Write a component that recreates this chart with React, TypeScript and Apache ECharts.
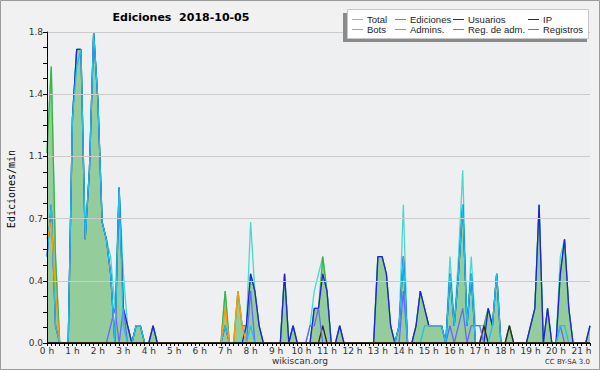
import React, { useEffect, useRef } from "react";
import * as echarts from "echarts";

// 10-minute slots from 0:00 to 21:20
const slots: string[] = Array.from({ length: 129 }, (_, i) => `${Math.floor(i / 6)}:${String((i % 6) * 10).padStart(2, "0")}`);

// values in edits per minute, one row per hour (6 slots)
const total = [
  1.1, 1.6, 0.5, 0, 0, 0,
  1.3, 1.7, 1.7, 0.6, 1.0, 1.8,
  1.4, 0.7, 0.6, 0.5, 0.2, 0.9,
  0.4, 0.1, 0, 0.1, 0.1, 0,
  0, 0.1, 0, 0, 0, 0,
  0, 0, 0, 0, 0, 0,
  0, 0, 0, 0, 0, 0,
  0.3, 0, 0, 0.3, 0.1, 0.1,
  0.7, 0.3, 0.1, 0, 0, 0,
  0, 0, 0.4, 0, 0.1, 0,
  0, 0, 0.1, 0.3, 0.4, 0.5,
  0.3, 0, 0, 0.1, 0, 0,
  0, 0, 0, 0, 0, 0,
  0.5, 0.5, 0.4, 0.1, 0, 0.1,
  0.8, 0, 0, 0.1, 0.3, 0.2,
  0.1, 0.1, 0.1, 0.1, 0, 0.5,
  0.1, 0.5, 1.0, 0.1, 0.5, 0.1,
  0.1, 0.1, 0.2, 0.1, 0.4, 0,
  0, 0.1, 0, 0, 0, 0,
  0.1, 0.2, 0.8, 0, 0.2, 0,
  0, 0.5, 0.6, 0.2, 0, 0,
  0, 0, 0.1,
];

const ediciones = [
  1.1, 1.6, 0.5, 0, 0, 0,
  1.3, 1.7, 1.7, 0.6, 1.0, 1.8,
  1.4, 0.7, 0.6, 0.4, 0, 0.9,
  0.2, 0.1, 0, 0.1, 0.1, 0,
  0, 0.1, 0, 0, 0, 0,
  0, 0, 0, 0, 0, 0,
  0, 0, 0, 0, 0, 0,
  0.3, 0, 0, 0.3, 0.1, 0.1,
  0.4, 0.3, 0.1, 0, 0, 0,
  0, 0, 0.4, 0, 0.1, 0,
  0, 0, 0, 0.2, 0.2, 0.5,
  0.3, 0, 0, 0.1, 0, 0,
  0, 0, 0, 0, 0, 0,
  0.5, 0.5, 0.4, 0.1, 0, 0.1,
  0.5, 0, 0, 0.1, 0.3, 0.2,
  0.1, 0.1, 0.1, 0.1, 0, 0.4,
  0.1, 0.4, 0.8, 0.1, 0.4, 0,
  0, 0.1, 0.2, 0.1, 0.4, 0,
  0, 0.1, 0, 0, 0, 0,
  0.1, 0.2, 0.8, 0, 0.2, 0,
  0, 0.4, 0.6, 0.2, 0, 0,
  0, 0, 0.1,
];

const usuarios = [
  0.5, 0.8, 0.1, 0, 0, 0,
  1.3, 1.7, 1.7, 0.6, 1.0, 1.8,
  1.4, 0.7, 0.6, 0.4, 0, 0.9,
  0.2, 0.1, 0, 0.1, 0.1, 0,
  0, 0.1, 0, 0, 0, 0,
  0, 0, 0, 0, 0, 0,
  0, 0, 0, 0, 0, 0,
  0.1, 0, 0, 0, 0, 0.1,
  0.4, 0.3, 0.1, 0, 0, 0,
  0, 0, 0.4, 0, 0.1, 0,
  0, 0, 0, 0.2, 0.2, 0.4,
  0.3, 0, 0, 0.1, 0, 0,
  0, 0, 0, 0, 0, 0,
  0.5, 0.5, 0.4, 0.1, 0, 0.1,
  0.5, 0, 0, 0.1, 0.3, 0.2,
  0.1, 0.1, 0.1, 0.1, 0, 0.4,
  0.1, 0.4, 0.8, 0.1, 0.4, 0,
  0, 0, 0.2, 0.1, 0.4, 0,
  0, 0, 0, 0, 0, 0,
  0.1, 0.2, 0.8, 0, 0.2, 0,
  0, 0.4, 0.6, 0.2, 0, 0,
  0, 0, 0.1,
];

const ip = [
  0, 0, 0, 0, 0, 0,
  0, 0, 0, 0, 0, 0,
  0, 0, 0, 0, 0, 0,
  0, 0, 0, 0, 0, 0,
  0, 0, 0, 0, 0, 0,
  0, 0, 0, 0, 0, 0,
  0, 0, 0, 0, 0, 0,
  0, 0, 0, 0, 0, 0,
  0, 0, 0, 0, 0, 0,
  0, 0, 0, 0, 0, 0,
  0, 0, 0, 0, 0, 0.1,
  0, 0, 0, 0, 0, 0,
  0, 0, 0, 0, 0, 0,
  0, 0, 0, 0, 0, 0,
  0, 0, 0, 0, 0, 0,
  0, 0, 0, 0, 0, 0,
  0, 0, 0, 0, 0, 0,
  0, 0.1, 0, 0, 0, 0,
  0, 0.1, 0, 0, 0, 0,
  0, 0, 0, 0, 0, 0,
  0, 0, 0, 0, 0, 0,
  0, 0, 0,
];

const bots = [
  0.6, 0.7, 0.3, 0, 0, 0,
  0, 0, 0, 0, 0, 0,
  0, 0, 0, 0, 0, 0,
  0, 0, 0, 0, 0, 0,
  0, 0, 0, 0, 0, 0,
  0, 0, 0, 0, 0, 0,
  0, 0, 0, 0, 0, 0,
  0.2, 0, 0, 0.3, 0.1, 0,
  0, 0, 0, 0, 0, 0,
  0, 0, 0, 0, 0, 0,
  0, 0, 0, 0, 0, 0,
  0, 0, 0, 0, 0, 0,
  0, 0, 0, 0, 0, 0,
  0, 0, 0, 0, 0, 0,
  0, 0, 0, 0, 0, 0,
  0, 0, 0, 0, 0, 0,
  0, 0, 0, 0, 0, 0,
  0, 0, 0, 0, 0, 0,
  0, 0, 0, 0, 0, 0,
  0, 0, 0, 0, 0, 0,
  0, 0, 0, 0, 0, 0,
  0, 0, 0,
];

const admins = [
  0.5, 0.8, 0.1, 0, 0, 0,
  1.3, 1.6, 1.7, 0.6, 1.0, 1.8,
  1.4, 0.7, 0.6, 0.4, 0, 0.9,
  0.1, 0, 0, 0.1, 0.1, 0,
  0, 0, 0, 0, 0, 0,
  0, 0, 0, 0, 0, 0,
  0, 0, 0, 0, 0, 0,
  0.1, 0, 0, 0, 0, 0,
  0.1, 0, 0, 0, 0, 0,
  0, 0, 0, 0, 0, 0,
  0, 0, 0, 0, 0, 0,
  0, 0, 0, 0, 0, 0,
  0, 0, 0, 0, 0, 0,
  0, 0, 0, 0, 0, 0.1,
  0.5, 0, 0, 0, 0, 0.1,
  0.1, 0.1, 0.1, 0.1, 0, 0.4,
  0.1, 0.4, 0.8, 0.1, 0.4, 0,
  0, 0, 0, 0.1, 0.4, 0,
  0, 0, 0, 0, 0, 0,
  0, 0, 0, 0, 0, 0,
  0, 0.1, 0.1, 0, 0, 0,
  0, 0, 0,
];

const regAdm = [
  0, 0, 0, 0, 0, 0, 0, 0, 0, 0, 0, 0, 0, 0, 0, 0, 0, 0, 0, 0, 0, 0, 0, 0,
  0, 0, 0, 0, 0, 0, 0, 0, 0, 0, 0, 0, 0, 0, 0, 0, 0, 0, 0, 0, 0, 0, 0, 0,
  0, 0, 0, 0, 0, 0, 0, 0, 0, 0, 0, 0, 0, 0, 0, 0, 0, 0, 0, 0, 0, 0, 0, 0,
  0, 0, 0, 0, 0, 0, 0, 0, 0, 0, 0, 0, 0, 0, 0, 0, 0, 0, 0, 0, 0, 0, 0, 0,
  0, 0, 0, 0, 0, 0, 0, 0, 0, 0, 0, 0, 0, 0, 0, 0, 0, 0, 0, 0, 0, 0, 0, 0,
  0, 0, 0, 0, 0, 0, 0, 0, 0,
];

const registros = [
  0, 0, 0, 0, 0, 0,
  0, 0, 0, 0, 0, 0,
  0, 0, 0, 0.1, 0.2, 0,
  0.2, 0, 0, 0, 0, 0,
  0, 0, 0, 0, 0, 0,
  0, 0, 0, 0, 0, 0,
  0, 0, 0, 0, 0, 0,
  0, 0, 0, 0, 0, 0,
  0.3, 0, 0, 0, 0, 0,
  0, 0, 0, 0, 0, 0,
  0, 0, 0.1, 0.1, 0.2, 0,
  0, 0, 0, 0, 0, 0,
  0, 0, 0, 0, 0, 0,
  0, 0, 0, 0, 0, 0,
  0.3, 0, 0, 0, 0, 0,
  0, 0, 0, 0, 0, 0.1,
  0, 0.1, 0.2, 0, 0.1, 0.1,
  0.1, 0, 0, 0, 0, 0,
  0, 0, 0, 0, 0, 0,
  0, 0, 0, 0, 0, 0,
  0, 0.1, 0, 0, 0, 0,
  0, 0, 0,
];

const yTicks = [0, 0.36, 0.72, 1.08, 1.44, 1.8];

const legendItems = [
  { name: "Total", color: "#48d8d0", col: 0, row: 0 },
  { name: "Bots", color: "#ff9a00", col: 0, row: 1 },
  { name: "Ediciones", color: "#3cb43c", col: 1, row: 0 },
  { name: "Admins.", color: "#20c0f0", col: 1, row: 1 },
  { name: "Usuarios", color: "#2020e0", col: 2, row: 0 },
  { name: "Reg. de adm.", color: "#e040e0", col: 2, row: 1 },
  { name: "IP", color: "#2a2a2a", col: 3, row: 0 },
  { name: "Registros", color: "#6868ff", col: 3, row: 1 },
];

const colX = [352, 395, 453, 528];
const rowY = [19, 29];

function lineSeries(name: string, data: number[], color: string, z: number, width = 1.3) {
  return {
    type: "line",
    name,
    data,
    symbol: "none",
    showSymbol: false,
    z,
    lineStyle: { color, width },
    itemStyle: { color },
    silent: true,
  };
}

export default function App() {
  const ref = useRef<HTMLDivElement>(null);
  useEffect(() => {
    if (!ref.current) return;
    const chart = echarts.init(ref.current, null, { renderer: "svg" });
    const colorOf = (n: string) => legendItems.find((l) => l.name === n)!.color;

    const legendGraphics: any[] = [
      { type: "rect", shape: { x: 343, y: 13, width: 244, height: 29 }, style: { fill: "#8a8a8a" }, z: 100 },
      { type: "rect", shape: { x: 347.5, y: 9.5, width: 241, height: 29 }, style: { fill: "#ffffff", stroke: "#c8c8c8", lineWidth: 1 }, z: 101 },
    ];
    legendItems.forEach((it) => {
      const x = colX[it.col];
      const y = rowY[it.row];
      legendGraphics.push({
        type: "line",
        shape: { x1: x, y1: y + 0.5, x2: x + 11, y2: y + 0.5 },
        style: { stroke: it.color, lineWidth: 1 },
        z: 102,
      });
      legendGraphics.push({
        type: "text",
        x: x + 15,
        y: y + 0.5,
        style: { text: it.name, fill: "#222", font: "9.5px 'Liberation Sans'", textAlign: "left", textVerticalAlign: "middle" },
        z: 102,
      });
    });

    const option: any = {
      animation: false,
      backgroundColor: "#f1f1f1",
      grid: { left: 47, right: 10, top: 32, bottom: 27, show: true, backgroundColor: "#edeff1", borderWidth: 0 },
      xAxis: {
        type: "category",
        data: slots,
        boundaryGap: false,
        z: 10,
        axisLine: { show: true, lineStyle: { color: "#000", width: 1 } },
        axisTick: { show: true, interval: 0, length: 3, lineStyle: { color: "#000" } },
        axisLabel: {
          interval: (i: number) => i % 6 === 0,
          formatter: (v: string) => `${v.split(":")[0]} h`,
          fontSize: 9,
          fontFamily: "DejaVu Sans",
          color: "#333",
          margin: 3,
        },
        splitLine: { show: false },
      },
      yAxis: {
        type: "value",
        min: yTicks[0],
        max: yTicks[yTicks.length - 1],
        interval: yTicks[1],
        z: 10,
        axisLine: { show: true, lineStyle: { color: "#000", width: 1 } },
        axisTick: { show: true, length: 4, lineStyle: { color: "#000" } },
        minorTick: { show: true, splitNumber: 4, length: 4, lineStyle: { color: "#000" } },
        axisLabel: {
          formatter: (v: number) => v.toFixed(1),
          fontSize: 9,
          fontFamily: "DejaVu Sans",
          color: "#333",
          margin: 4,
        },
        splitLine: { show: true, lineStyle: { color: "#cccccc", width: 1 } },
      },
      series: [
        lineSeries("Reg. de adm.", regAdm, colorOf("Reg. de adm."), 1),
        lineSeries("Total", total, colorOf("Total"), 2),
        {
          ...lineSeries("Ediciones", ediciones, colorOf("Ediciones"), 3),
          areaStyle: { color: "#95cc9b", opacity: 1 },
        },
        lineSeries("Usuarios", usuarios, colorOf("Usuarios"), 4),
        lineSeries("IP", ip, colorOf("IP"), 4),
        lineSeries("Registros", registros, colorOf("Registros"), 4),
        lineSeries("Admins.", admins, colorOf("Admins."), 5),
        lineSeries("Bots", bots, colorOf("Bots"), 5),
      ],
      graphic: [
        // axis baseline redrawn above the zero-valued series
        { type: "line", shape: { x1: 47, y1: 343, x2: 590, y2: 343 }, style: { stroke: "#000", lineWidth: 1.6 }, z: 50 },
        { type: "rect", shape: { x: 0.5, y: 0.5, width: 599, height: 369 }, style: { fill: "none", stroke: "#9a9a9a", lineWidth: 1 }, z: 100 },
        {
          type: "text",
          x: 181,
          y: 17,
          style: { text: "Ediciones  2018-10-05", fill: "#000", font: "bold 11px 'DejaVu Sans'", textAlign: "center", textVerticalAlign: "middle" },
          z: 100,
        },
        {
          type: "text",
          x: 11,
          y: 189,
          rotation: Math.PI / 2,
          style: { text: "Ediciones/min", fill: "#000", font: "10px 'DejaVu Sans Mono'", textAlign: "center", textVerticalAlign: "middle" },
          z: 100,
        },
        {
          type: "text",
          x: 300,
          y: 361,
          style: { text: "wikiscan.org", fill: "#333", font: "9px 'DejaVu Sans'", textAlign: "center", textVerticalAlign: "middle" },
          z: 100,
        },
        {
          type: "text",
          x: 590,
          y: 362,
          style: { text: "CC BY-SA 3.0", fill: "#333", font: "7px 'DejaVu Sans'", textAlign: "right", textVerticalAlign: "middle" },
          z: 100,
        },
        ...legendGraphics,
      ],
    };
    chart.setOption(option);
    return () => chart.dispose();
  }, []);
  return <div ref={ref} style={{ position: "fixed", left: 0, top: 0, width: 600, height: 370 }} />;
}
